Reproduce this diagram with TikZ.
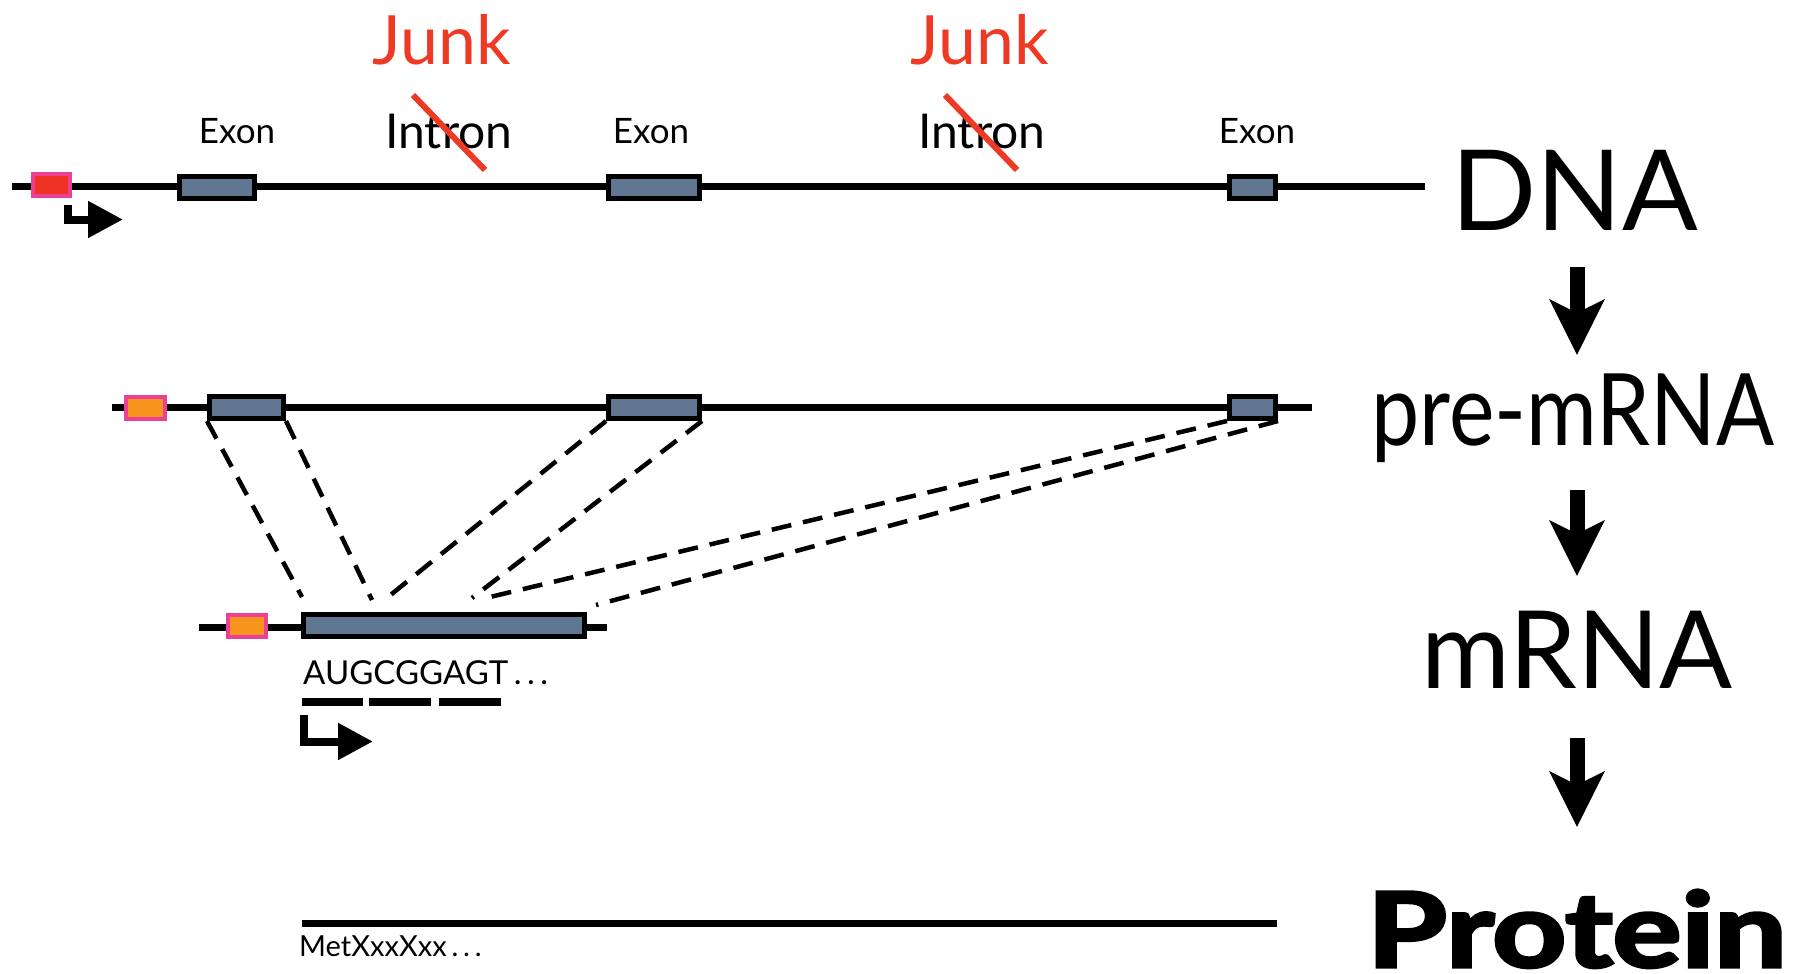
\documentclass[tikz,border=0pt]{standalone}
\usepackage{fontspec}
\setmainfont{Lato}
\newfontfamily\heavyfont{Lato}[BoldFeatures={FakeBold=3}]
\usetikzlibrary{arrows.meta}
\definecolor{exonc}{RGB}{95,117,144}
\definecolor{pinkc}{RGB}{236,64,150}
\definecolor{redc}{RGB}{238,50,36}
\definecolor{orangec}{RGB}{247,148,30}
\definecolor{junkc}{RGB}{238,58,36}
\tikzset{
  exon/.style={draw=black, line width=5pt, fill=exonc, inner sep=0pt, minimum height=22pt},
  promred/.style={draw=pinkc, line width=4pt, fill=redc, inner sep=0pt, minimum width=37pt, minimum height=22pt},
  promor/.style={draw=pinkc, line width=4pt, fill=orangec, inner sep=0pt, minimum width=38pt, minimum height=22pt},
  strand/.style={line width=7pt},
  joinline/.style={line width=4.5pt, dash pattern=on 20pt off 12pt},
  strike/.style={draw=junkc, line width=6pt},
  bigarrow/.style={line width=15pt, -{Stealth[length=55pt,width=54pt,inset=13pt]}},
  startarrow/.style={line width=8pt, -{Triangle[length=35pt,width=35pt]}},
  exonlbl/.style={anchor=base, inner sep=0pt, font=\fontsize{35}{40}\selectfont},
  intronlbl/.style={anchor=base, inner sep=0pt, font=\fontsize{48}{52}\selectfont},
  junklbl/.style={anchor=base, inner sep=0pt, text=junkc, font=\fontsize{68}{72}\selectfont},
  stagelbl/.style={anchor=base, inner sep=0pt},
  seqlbl/.style={anchor=base west, inner sep=0pt}
}
\begin{document}
\begin{tikzpicture}[x=1pt,y=-1pt]
\useasboundingbox (0,0) rectangle (1807,974);

% ---------- DNA row ----------
\coordinate (dnaL) at (12,186);
\coordinate (dnaR) at (1425,186);
\draw[strand] (dnaL) -- (dnaR);
\node[promred] (dnaP) at (51.5,185) {};
\node[exon, minimum width=75pt] (dnaE1) at (217,187) {};
\node[exon, minimum width=91pt] (dnaE2) at (654,187) {};
\node[exon, minimum width=46pt] (dnaE3) at (1252.5,187) {};
\coordinate (dnaA0) at (68,205);
\coordinate (dnaA1) at (123,219.5);
\draw[startarrow] (dnaA0) |- (dnaA1);

\node[exonlbl] (lx1) at (237,143) {Exon};
\node[exonlbl] (lx2) at (651,143) {Exon};
\node[exonlbl] (lx3) at (1257,143) {Exon};
\node[intronlbl] (li1) at (449,148) {Intron};
\node[intronlbl] (li2) at (982,148) {Intron};
\node[junklbl] (lj1) at (442,65) {Junk};
\node[junklbl] (lj2) at (980,65) {Junk};
\coordinate (s1a) at (413,95);
\coordinate (s1b) at (485,170);
\coordinate (s2a) at (945,95);
\coordinate (s2b) at (1017,170);
\draw[strike] (s1a) -- (s1b);
\draw[strike] (s2a) -- (s2b);

% ---------- pre-mRNA row ----------
\coordinate (preL) at (112,407);
\coordinate (preR) at (1312,407);
\draw[strand] (preL) -- (preR);
\node[promor, minimum width=39pt] (preP) at (145.5,407.5) {};
\node[exon, minimum width=74pt] (preE1) at (246.5,407.5) {};
\node[exon, minimum width=91pt] (preE2) at (654,407.5) {};
\node[exon, minimum width=46pt] (preE3) at (1252.5,407.5) {};

% ---------- mRNA row ----------
\coordinate (mL) at (199,627);
\coordinate (mR) at (607,627);
\draw[strand] (mL) -- (mR);
\node[promor] (mP) at (247,625.5) {};
\node[exon, minimum width=281pt] (mE) at (444,625.5) {};

\coordinate (m1) at (302,597);
\coordinate (m2) at (372,600);
\coordinate (m3) at (388,597);
\coordinate (m4) at (472,598);
\coordinate (m5) at (490,597);
\coordinate (m6) at (596,605);
\draw[joinline] (preE1.south west) -- (m1);
\draw[joinline] (preE1.south east) -- (m2);
\draw[joinline] (preE2.south west) -- (m3);
\draw[joinline] (preE2.south east) -- (m4);
\draw[joinline] (preE3.south west) -- (m5);
\draw[joinline] (preE3.south east) -- (m6);

\node[seqlbl, font=\fontsize{33}{36}\selectfont] (seq) at (303,684) {AUGCGGAGT\,.\,.\,.};
\draw[line width=8pt] (302,702) -- (363,702);
\draw[line width=8pt] (369,702) -- (431,702);
\draw[line width=8pt] (439,702) -- (501,702);
\coordinate (mA0) at (304,715);
\coordinate (mA1) at (373,741.5);
\draw[startarrow] (mA0) |- (mA1);

% ---------- Protein row ----------
\coordinate (pL) at (302,923);
\coordinate (pR) at (1277,923);
\draw[strand] (pL) -- (pR);
\node[seqlbl, font=\fontsize{29}{32}\selectfont] (aa) at (299,956) {MetXxxXxx\,.\,.\,.};

% ---------- stage labels ----------
\node[stagelbl, font=\fontsize{112}{120}\selectfont] (tDNA) at (1575,230) {DNA};
\node[stagelbl, font=\fontsize{100}{110}\selectfont] (tPre) at (1573,445) {\scalebox{0.86}[1]{pre-mRNA}};
\node[stagelbl, font=\fontsize{108}{116}\selectfont] (tM) at (1577,688) {mRNA};
\node[stagelbl, font=\heavyfont\bfseries\fontsize{104}{112}\selectfont] (tProt) at (1577,967) {\scalebox{1.24}[1]{Protein}};

\coordinate (a1s) at (1577,267);
\coordinate (a1e) at (1577,355);
\coordinate (a2s) at (1577,490);
\coordinate (a2e) at (1577,576);
\coordinate (a3s) at (1577,738);
\coordinate (a3e) at (1577,827);
\draw[bigarrow] (a1s) -- (a1e);
\draw[bigarrow] (a2s) -- (a2e);
\draw[bigarrow] (a3s) -- (a3e);
\end{tikzpicture}
\end{document}
